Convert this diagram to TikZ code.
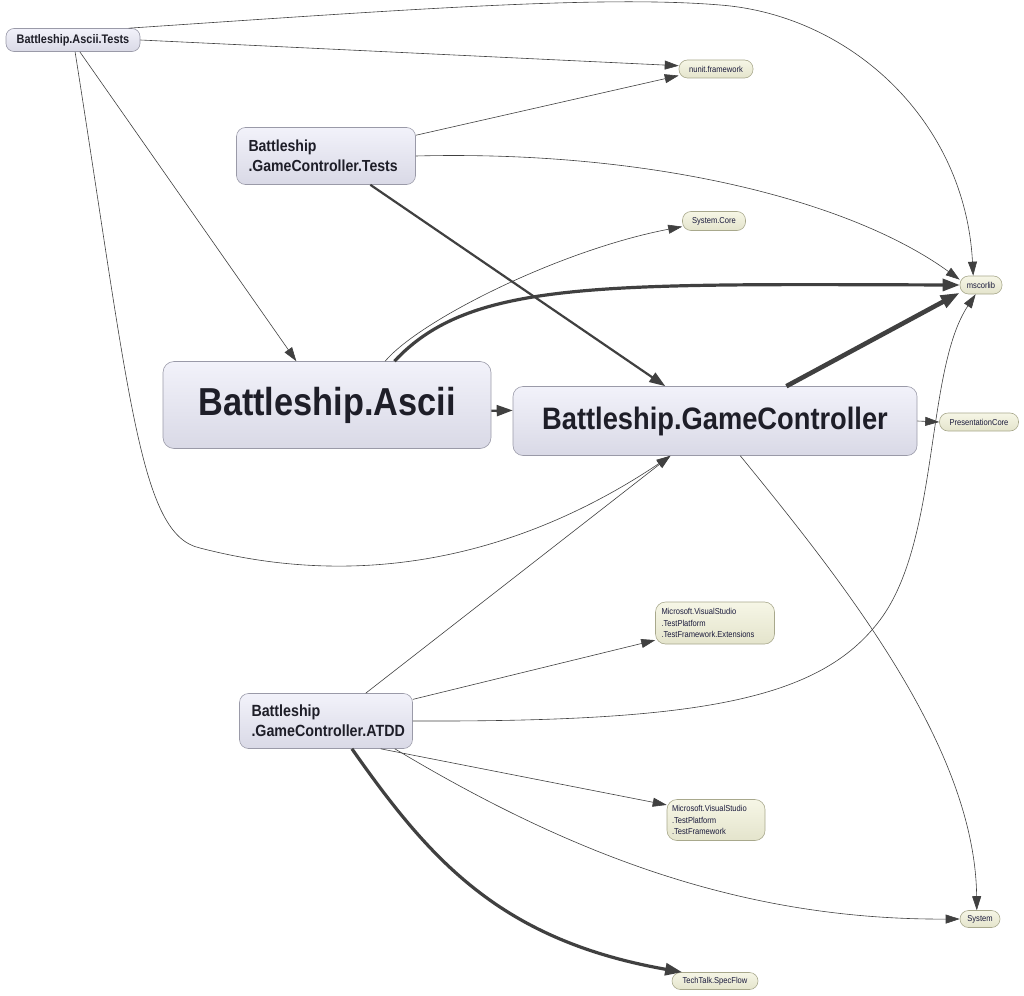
\documentclass[tikz,border=0pt]{standalone}
\usepackage{fontspec}
\setmainfont{Liberation Sans}[FakeStretch=0.88]
\usepackage{xcolor}
\usetikzlibrary{arrows.meta}
\definecolor{lavtop}{HTML}{F2F2FA}
\definecolor{lavbot}{HTML}{D9D9E6}
\definecolor{lavline}{HTML}{9A9AA8}
\definecolor{creamtop}{HTML}{F6F6E6}
\definecolor{creambot}{HTML}{E4E4CC}
\definecolor{creamline}{HTML}{A8A88C}
\definecolor{inkdark}{HTML}{1E1E28}
\definecolor{inknavy}{HTML}{1A1A3C}
\definecolor{edgegray}{HTML}{404040}
\tikzstyle{asm} = [rectangle, rounded corners=9pt, draw=lavline, line width=0.6pt,
                   top color=lavtop, bottom color=lavbot, text=inkdark, inner sep=0pt]
\tikzstyle{ref} = [rectangle, rounded corners=8.5pt, draw=creamline, line width=0.6pt,
                   top color=creamtop, bottom color=creambot, text=inknavy,
                   font=\fontsize{8.6}{11.5}\selectfont, inner sep=0pt]
\tikzstyle{arrow} = [-{Triangle[length=14pt,width=9pt]}, line width=0.6pt, draw=edgegray]
\tikzstyle{midarrow} = [arrow, line width=2.2pt, -{Triangle[length=16pt,width=11pt]}]
\tikzstyle{bigarrow} = [arrow, line width=3.2pt, -{Triangle[length=17pt,width=12pt]}]
\tikzstyle{hugearrow} = [arrow, line width=4.6pt, -{Triangle[length=19pt,width=13pt]}]

\begin{document}
\begin{tikzpicture}[x=1pt, y=-1pt]
    \useasboundingbox (0,0) rectangle (1024,995);

    % assemblies
    \node[asm, rounded corners=8pt, minimum width=134pt, minimum height=23pt,
          font=\bfseries\fontsize{12.4}{14}\selectfont] (tests) at (73,40) {Battleship.Ascii.Tests};
    \node[asm, minimum width=179pt, minimum height=57pt, text width=155pt, align=left,
          font=\bfseries\fontsize{16}{20}\selectfont] (gctests) at (326,156) {Battleship\\.GameController.Tests};
    \node[asm, rounded corners=11pt, minimum width=328pt, minimum height=87pt,
          font=\bfseries\fontsize{39}{44}\selectfont] (ascii) at (327,405) {Battleship.Ascii};
    \node[asm, rounded corners=10pt, minimum width=404pt, minimum height=69pt,
          font=\bfseries\fontsize{31}{36}\selectfont] (gc) at (715,421) {Battleship.GameController};
    \node[asm, minimum width=173pt, minimum height=55pt, text width=149pt, align=left,
          font=\bfseries\fontsize{16.2}{20}\selectfont] (atdd) at (326,721) {Battleship\\.GameController.ATDD};

    % references
    \node[ref, minimum width=74pt, minimum height=18pt] (nunit) at (716,69) {nunit.framework};
    \node[ref, minimum width=63pt, minimum height=19pt] (syscore) at (714,221) {System.Core};
    \node[ref, minimum width=42pt, minimum height=18pt] (mscorlib) at (981,285) {mscorlib};
    \node[ref, minimum width=79pt, minimum height=18pt] (prescore) at (979,422) {PresentationCore};
    \node[ref, rounded corners=10pt, minimum width=119pt, minimum height=42pt, text width=107pt,
          align=left] (vsext) at (715,623) {Microsoft.VisualStudio\\.TestPlatform\\.TestFramework.Extensions};
    \node[ref, rounded corners=10pt, minimum width=98pt, minimum height=41pt, text width=88pt,
          align=left] (vstf) at (716,820) {Microsoft.VisualStudio\\.TestPlatform\\.TestFramework};
    \node[ref, minimum width=40pt, minimum height=17pt] (system) at (980,919) {System};
    \node[ref, minimum width=86pt, minimum height=17pt] (specflow) at (715,981) {TechTalk.SpecFlow};

    % Battleship.Ascii.Tests
    \draw[arrow] (tests.east) -- (nunit.175);
    \draw[arrow] (tests.12) .. controls (400,10) and (600,-5) .. (720,5)
                 .. controls (850,15) and (965,120) .. (mscorlib.130);
    \draw[arrow] (tests.-60) -- (ascii.125);
    \draw[arrow] (tests.-80) .. controls (130,400) and (140,535) .. (200,548)
                 .. controls (400,600) and (560,530) .. (gc.218);

    % Battleship.GameController.Tests
    \draw[arrow] (gctests.13) -- (nunit.190);
    \draw[arrow] (gctests.east) .. controls (650,150) and (850,200) .. (mscorlib.166);
    \draw[midarrow] (gctests.-33) -- (gc.145);

    % Battleship.Ascii
    \draw[arrow] (ascii.37) .. controls (420,320) and (560,250) .. (syscore.190);
    \draw[bigarrow] (ascii.33) .. controls (470,280) and (600,284) .. (mscorlib.west);
    \draw[midarrow] (ascii.-2) -- (gc.177);

    % Battleship.GameController
    \draw[hugearrow] (gc.26) -- (mscorlib.200);
    \draw[arrow] (gc.east) -- (prescore.west);
    \draw[arrow] (gc.-54) .. controls (850,590) and (975,750) .. (system.110);

    % Battleship.GameController.ATDD
    \draw[arrow] (atdd.35) -- (gc.218);
    \draw[arrow] (atdd.14) -- (vsext.196);
    \draw[arrow] (atdd.east) .. controls (700,722) and (820,700) .. (880,620)
                 .. controls (940,540) and (925,370) .. (mscorlib.-120);
    \draw[arrow] (atdd.-27) -- (vstf.163);
    \draw[arrow] (atdd.-22) .. controls (580,860) and (750,920) .. (system.west);
    \draw[bigarrow] (atdd.-47) .. controls (430,860) and (500,940) .. (specflow.165);
\end{tikzpicture}
\end{document}
